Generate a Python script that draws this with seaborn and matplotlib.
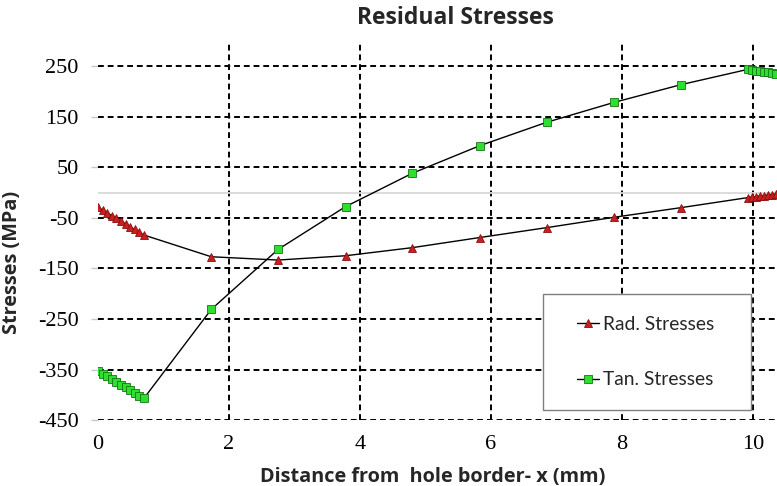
import matplotlib
matplotlib.use("Agg")
import matplotlib.pyplot as plt
import seaborn as sns
import pandas as pd
from matplotlib.patches import Rectangle

# ---- data ----
x_left = [0.00, 0.07, 0.14, 0.21, 0.28, 0.35, 0.42, 0.49, 0.56, 0.63, 0.70]
x_mid = [1.73, 2.75, 3.78, 4.80, 5.83, 6.85, 7.88, 8.90]
x_right = [9.93, 9.99, 10.05, 10.11, 10.17, 10.23, 10.29, 10.35]
distance = x_left + x_mid + x_right

rad_stress = [-29, -35, -40, -46, -51, -57, -62, -68, -73, -79, -84,
              -127, -133.5, -125, -109, -89, -69.5, -49, -30,
              -10, -9, -8, -7, -6, -5, -4, -3]
tan_stress = [-352, -358, -363, -369, -374, -380, -385, -391, -396, -402, -407,
              -231, -112.5, -28, 38, 92.5, 138.7, 178, 213,
              243.5, 242, 241, 240, 238.5, 237.5, 236, 235]

series_names = ["Rad. Stresses", "Tan. Stresses"]
y_ticks = [-450, -350, -250, -150, -50, 50, 150, 250]
x_ticks = [0, 2, 4, 6, 8, 10]

df = pd.DataFrame({"x": distance, "rad": rad_stress, "tan": tan_stress})

sns.set_theme(style="white")
plt.rcParams["font.family"] = ["Liberation Serif", "DejaVu Serif"]
plt.rcParams["axes.unicode_minus"] = False
plt.rcParams["xtick.labelsize"] = 16
plt.rcParams["ytick.labelsize"] = 16
plt.rcParams["xtick.color"] = "black"
plt.rcParams["ytick.color"] = "black"

fig = plt.figure(figsize=(7.77, 4.86), dpi=100)
ax = fig.add_axes([98 / 777, 1 - 420.2 / 486, 1 - 98 / 777, (420.2 - 40.7) / 486])

sns.lineplot(data=df, x="x", y="rad", ax=ax, sort=False, estimator=None,
             color="black", lw=1.0, marker="^", markersize=5.5,
             markerfacecolor="#c8201e", markeredgecolor="#8a0f0f", markeredgewidth=0.6,
             label=series_names[0], zorder=5)
sns.lineplot(data=df, x="x", y="tan", ax=ax, sort=False, estimator=None,
             color="black", lw=1.0, marker="s", markersize=5.5,
             markerfacecolor="#2ee02e", markeredgecolor="#157515", markeredgewidth=0.6,
             label=series_names[1], zorder=5)

ax.set_xlim(0, 10.37)
ax.set_ylim(-450, 300)
ax.set_yticks(y_ticks)
ax.set_xticks(x_ticks)
ax.set_yticklabels([str(v) for v in y_ticks])
ax.set_xticklabels([str(v) for v in x_ticks])

for s in ax.spines.values():
    s.set_visible(False)

# grid
for yv in y_ticks:
    ax.axhline(yv, color="black", lw=1.4, ls=(0, (3, 2)), zorder=1)
for xv in x_ticks[1:]:
    ax.axvline(xv, color="black", lw=1.4, ls=(0, (3, 2)), zorder=1)
ax.axhline(0, color="#d9d9d9", lw=1.3, zorder=2)

ax.tick_params(axis="y", length=5, color="#c8c8c8", width=1, pad=9, left=True,
               labelcolor="black")
ax.tick_params(axis="x", length=0, pad=11, labelcolor="black")

lab_font = dict(family="Open Sans", weight="bold", size=14.3)
ax.set_xlabel("Distance from  hole border- x (mm)", **lab_font)
ax.set_ylabel("Stresses (MPa)", **lab_font)
ax.xaxis.set_label_coords(0.4934, -0.123)
ax.yaxis.set_label_coords(-0.112, 0.417)
fig.text(455.5 / 777, 1 - 18 / 486, "Residual Stresses", ha="center", va="center",
         family="Open Sans", weight="bold", size=16.5)

# legend box
x0 = (543.3 - 98) / 679
x1 = (751 - 98) / 679
y0 = (420.2 - 410) / 379.5
y1 = (420.2 - 294) / 379.5
ax.add_patch(Rectangle((x0, y0), x1 - x0, y1 - y0, transform=ax.transAxes,
                       facecolor="white", edgecolor="#7f7f7f", lw=1.0, zorder=8))
leg = ax.legend(loc="center left", bbox_to_anchor=((576.7 - 98) / 679, (y0 + y1) / 2),
                frameon=False, prop={"family": "Lato", "size": 13.9},
                handlelength=1.15, handletextpad=0.2, labelspacing=2.0,
                borderpad=0, borderaxespad=0)
leg.set_zorder(9)

fig.savefig("out.png", dpi=100)
